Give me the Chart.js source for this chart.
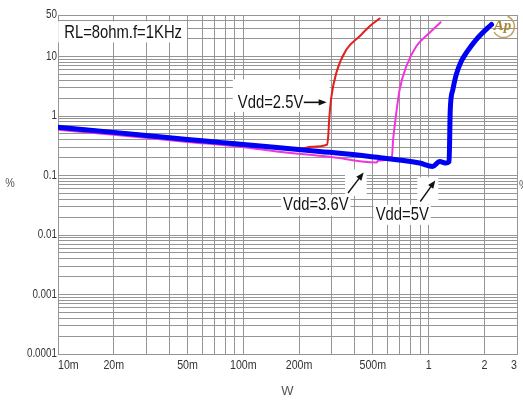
<!DOCTYPE html>
<html><head><meta charset="utf-8">
<script src="https://cdn.jsdelivr.net/npm/chart.js@4.4.1/dist/chart.umd.min.js"></script>
<style>html,body{margin:0;padding:0;background:#fff;}#wrap{width:523px;height:401px;position:relative;}</style>
</head><body><div id="wrap"><canvas id="c" width="523" height="401"></canvas></div>
<script>
// ---------- data ----------
const xTickValues = [0.01,0.02,0.03,0.04,0.05,0.06,0.07,0.08,0.09,0.1,0.2,0.3,0.4,0.5,0.6,0.7,0.8,0.9,1,2,3];
const xTickLabels = ['10m','20m','','','50m','','','','','100m','200m','','','500m','','','','','1','2','3'];
const yTickValues = [0.0001,0.0002,0.0003,0.0004,0.0005,0.0006,0.0007,0.0008,0.0009,
  0.001,0.002,0.003,0.004,0.005,0.006,0.007,0.008,0.009,
  0.01,0.02,0.03,0.04,0.05,0.06,0.07,0.08,0.09,
  0.1,0.2,0.3,0.4,0.5,0.6,0.7,0.8,0.9,
  1,2,3,4,5,6,7,8,9,
  10,20,30,40,50];
const yTickLabels = ['0.0001','','','','','','','','',
  '0.001','','','','','','','','',
  '0.01','','','','','','','','',
  '0.1','','','','','','','','',
  '1','','','','','','','','',
  '10','','','','50'];

const blueW   = [0.01,0.02,0.05,0.0747,0.1,0.2585,0.4808,0.894,1.051,1.147,1.246,1.290,1.309,1.352,1.41,1.501,1.597,1.807,2.133,2.186];
const blueTHD = [0.65,0.532,0.405,0.361,0.3325,0.2544,0.2097,0.1623,0.1423,0.172,0.1623,0.171,1.28,2.78,4.98,8.34,11.5,19.3,32.4,34.6];

const redW    = [0.01,0.02,0.05,0.1,0.2,0.233,0.283,0.2872,0.2908,0.2989,0.318,0.3601,0.4246,0.4808,0.5443];
const redTHD  = [0.67,0.55,0.415,0.34,0.275,0.305,0.33,0.45,0.87,2.12,5.38,13.1,22.0,32.4,43.6];

const magW    = [0.01,0.02,0.05,0.1,0.151,0.2927,0.5226,0.5344,0.6342,0.6436,0.6556,0.6977,0.7583,0.8584,1.0125,1.161];
const magTHD  = [0.59,0.483,0.368,0.30,0.2544,0.2073,0.1661,0.1775,0.2097,0.40,0.671,2.78,6.87,14.9,25.1,37.8];

// ---------- fonts ----------
function hasFont(fam){
  const c=document.createElement('canvas').getContext('2d');
  c.font='40px monospace'; const a=c.measureText('Vdd=2.5V mmm').width;
  c.font='40px "'+fam+'", monospace'; return Math.abs(c.measureText('Vdd=2.5V mmm').width-a)>0.5;
}
const narrowOK = hasFont('Liberation Sans Narrow');
const FAM = narrowOK ? '"Liberation Sans Narrow", "Liberation Sans", sans-serif' : '"Liberation Sans", Arial, sans-serif';
const SQ = narrowOK ? 1 : 0.82;      // horizontal squeeze for tick labels
const SQA = narrowOK ? 0.95 : 0.78;  // horizontal squeeze for annotations

function drawText(ctx, text, x, y, size, align, color, sq){
  ctx.save();
  ctx.font = size+'px '+FAM;
  ctx.fillStyle = color; ctx.textBaseline='middle'; ctx.textAlign=align;
  ctx.translate(x,y); ctx.scale(sq,1); ctx.fillText(text,0,0);
  ctx.restore();
}
function textW(ctx, text, size, sq){ ctx.save(); ctx.font=size+'px '+FAM; const w=ctx.measureText(text).width*sq; ctx.restore(); return w; }

// squeeze Chart.js tick labels horizontally (narrow face look)
function squeezeLabels(s){
  if(s.$sq) return; s.$sq=true;
  const orig=s.drawLabels;
  s.drawLabels=function(area){
    const ctx=this.ctx, of=CanvasRenderingContext2D.prototype.fillText;
    ctx.fillText=function(t,x,y,mw){
      this.save(); this.translate(x,y); this.scale(SQ,1);
      if(mw!==undefined) of.call(this,t,0,0,mw/SQ); else of.call(this,t,0,0);
      this.restore();
    };
    try{ orig.call(this,area); } finally { delete ctx.fillText; }
  };
}

// ---------- annotations (anchored in data units) ----------
const AFS = 19;
const textNotes = [
  {text:'RL=8ohm.f=1KHz', w:0.0108, p:25,    box:[6,11.5,5,9.5]},
  {text:'Vdd=2.5V',       w:0.0934, p:1.70,  box:[5,23,3,9.5], arrowFrom:0.212, arrowTo:0.2819},
  {text:'Vdd=3.6V',       w:0.1639, p:0.0322,box:[2,10,2,11]},
  {text:'Vdd=5V',         w:0.5178, p:0.0219,box:[2,10,2,10]}
];
const arrowNotes = [
  {from:[0.3673,0.0508], to:[0.4462,0.1128]},
  {from:[0.9022,0.0366], to:[1.087,0.0827]}
];
const logoAt = {w:2.537, p:32};

function arrowHead(ctx, x1,y1,x2,y2){
  const ang=Math.atan2(y2-y1,x2-x1), L=8, Wd=3.2;
  ctx.beginPath();
  ctx.moveTo(x2,y2);
  ctx.lineTo(x2-L*Math.cos(ang)+Wd*Math.sin(ang), y2-L*Math.sin(ang)-Wd*Math.cos(ang));
  ctx.lineTo(x2-L*Math.cos(ang)-Wd*Math.sin(ang), y2-L*Math.sin(ang)+Wd*Math.cos(ang));
  ctx.closePath(); ctx.fill();
}

const annoPlugin = {
  id:'anno',
  beforeDatasetsDraw(chart){
    const {ctx, scales:{x,y}} = chart;
    ctx.save(); ctx.fillStyle='#fff';
    for(const a of textNotes){
      const px=x.getPixelForValue(a.w), py=y.getPixelForValue(a.p);
      let right = px+textW(ctx,a.text,AFS,SQA);
      if(a.arrowTo) right = x.getPixelForValue(a.arrowTo);
      ctx.fillRect(px-a.box[0], py-a.box[1], right-px+a.box[0]+a.box[2], a.box[1]+a.box[3]);
    }
    for(const r of arrowNotes){
      const x1=x.getPixelForValue(r.from[0]), y1=y.getPixelForValue(r.from[1]);
      const x2=x.getPixelForValue(r.to[0]), y2=y.getPixelForValue(r.to[1]);
      const l=Math.min(x1,x2)-3, t=Math.min(y1,y2)-3, rr=Math.max(x1,x2)+3, b=Math.max(y1,y2)+3;
      ctx.fillRect(l,t,rr-l,b-t);
    }
    ctx.restore();
  },
  afterDatasetsDraw(chart){
    const {ctx, scales:{x,y}} = chart;
    for(const a of textNotes){
      const px=x.getPixelForValue(a.w), py=y.getPixelForValue(a.p);
      drawText(ctx,a.text,px,py,AFS,'left','#141414',SQA);
      if(a.arrowTo){
        const x1=x.getPixelForValue(a.arrowFrom), x2=x.getPixelForValue(a.arrowTo);
        ctx.save(); ctx.strokeStyle='#111'; ctx.fillStyle='#111'; ctx.lineWidth=1.6;
        ctx.beginPath(); ctx.moveTo(x1,py); ctx.lineTo(x2-4,py); ctx.stroke();
        arrowHead(ctx,x1,py,x2,py); ctx.restore();
      }
    }
    ctx.save(); ctx.strokeStyle='#111'; ctx.fillStyle='#111'; ctx.lineWidth=1.4;
    for(const r of arrowNotes){
      const x1=x.getPixelForValue(r.from[0]), y1=y.getPixelForValue(r.from[1]);
      const x2=x.getPixelForValue(r.to[0]), y2=y.getPixelForValue(r.to[1]);
      ctx.beginPath(); ctx.moveTo(x1,y1); ctx.lineTo(x2-(x2-x1)*0.2,y2-(y2-y1)*0.2); ctx.stroke();
      arrowHead(ctx,x1,y1,x2,y2);
    }
    ctx.restore();
    // logo
    const lx=x.getPixelForValue(logoAt.w), ly=y.getPixelForValue(logoAt.p);
    ctx.save();
    ctx.strokeStyle='#bfa060'; ctx.lineWidth=1.4;
    ctx.beginPath(); ctx.arc(lx,ly,11,-1.2,2.6); ctx.stroke();
    ctx.font='italic bold 15px "Liberation Serif", serif'; ctx.fillStyle='#a98a3c';
    ctx.textAlign='center'; ctx.textBaseline='middle'; ctx.fillText('Ap',lx-1,ly);
    ctx.restore();
    // % labels
    drawText(ctx,'%',10,183,13,'center','#555',SQ);
    drawText(ctx,'%',519,185,13,'left','#555',SQ);
  }
};

const GRID='#959595';
const ds = (w,v,color,width,order)=>({
  data: w.map((xx,i)=>({x:xx,y:v[i]})),
  borderColor:color, backgroundColor:color, borderWidth:width, pointRadius:0,
  fill:false, cubicInterpolationMode:'monotone', borderJoinStyle:'round', borderCapStyle:'round', order
});

new Chart(document.getElementById('c'),{
  type:'line',
  data:{datasets:[
    ds(blueW,blueTHD,'#0000f2',5,0),
    ds(redW,redTHD,'#e3201c',2,1),
    ds(magW,magTHD,'#f035e0',2,2)
  ]},
  options:{
    responsive:false, animation:false, devicePixelRatio:1,
    layout:{padding:{top:15,right:6,left:0,bottom:0}},
    plugins:{legend:{display:false},tooltip:{enabled:false}},
    scales:{
      x:{type:'logarithmic', min:0.01, max:3,
        afterBuildTicks:s=>{s.ticks=xTickValues.map(v=>({value:v}));},
        afterFit:s=>{s.height=47;},
        afterUpdate:squeezeLabels,
        ticks:{autoSkip:false,maxRotation:0,minRotation:0,align:'inner',padding:4,color:'#333',
          font:{family:FAM,size:13},callback:(v,i)=>xTickLabels[i]},
        grid:{color:GRID,lineWidth:1,drawTicks:false},
        border:{color:GRID},
        title:{display:true,text:'W',color:'#555',font:{family:FAM,size:13},padding:{top:0,bottom:2}}
      },
      y:{type:'logarithmic', min:0.0001, max:50,
        afterBuildTicks:s=>{s.ticks=yTickValues.map(v=>({value:v}));},
        afterFit:s=>{s.width=58;},
        afterUpdate:squeezeLabels,
        ticks:{autoSkip:false,padding:1,color:'#333',
          font:{family:FAM,size:12},callback:(v,i)=>yTickLabels[i]},
        grid:{color:GRID,lineWidth:1,drawTicks:false},
        border:{color:GRID}
      }
    }
  },
  plugins:[annoPlugin]
});
</script>
</body></html>
